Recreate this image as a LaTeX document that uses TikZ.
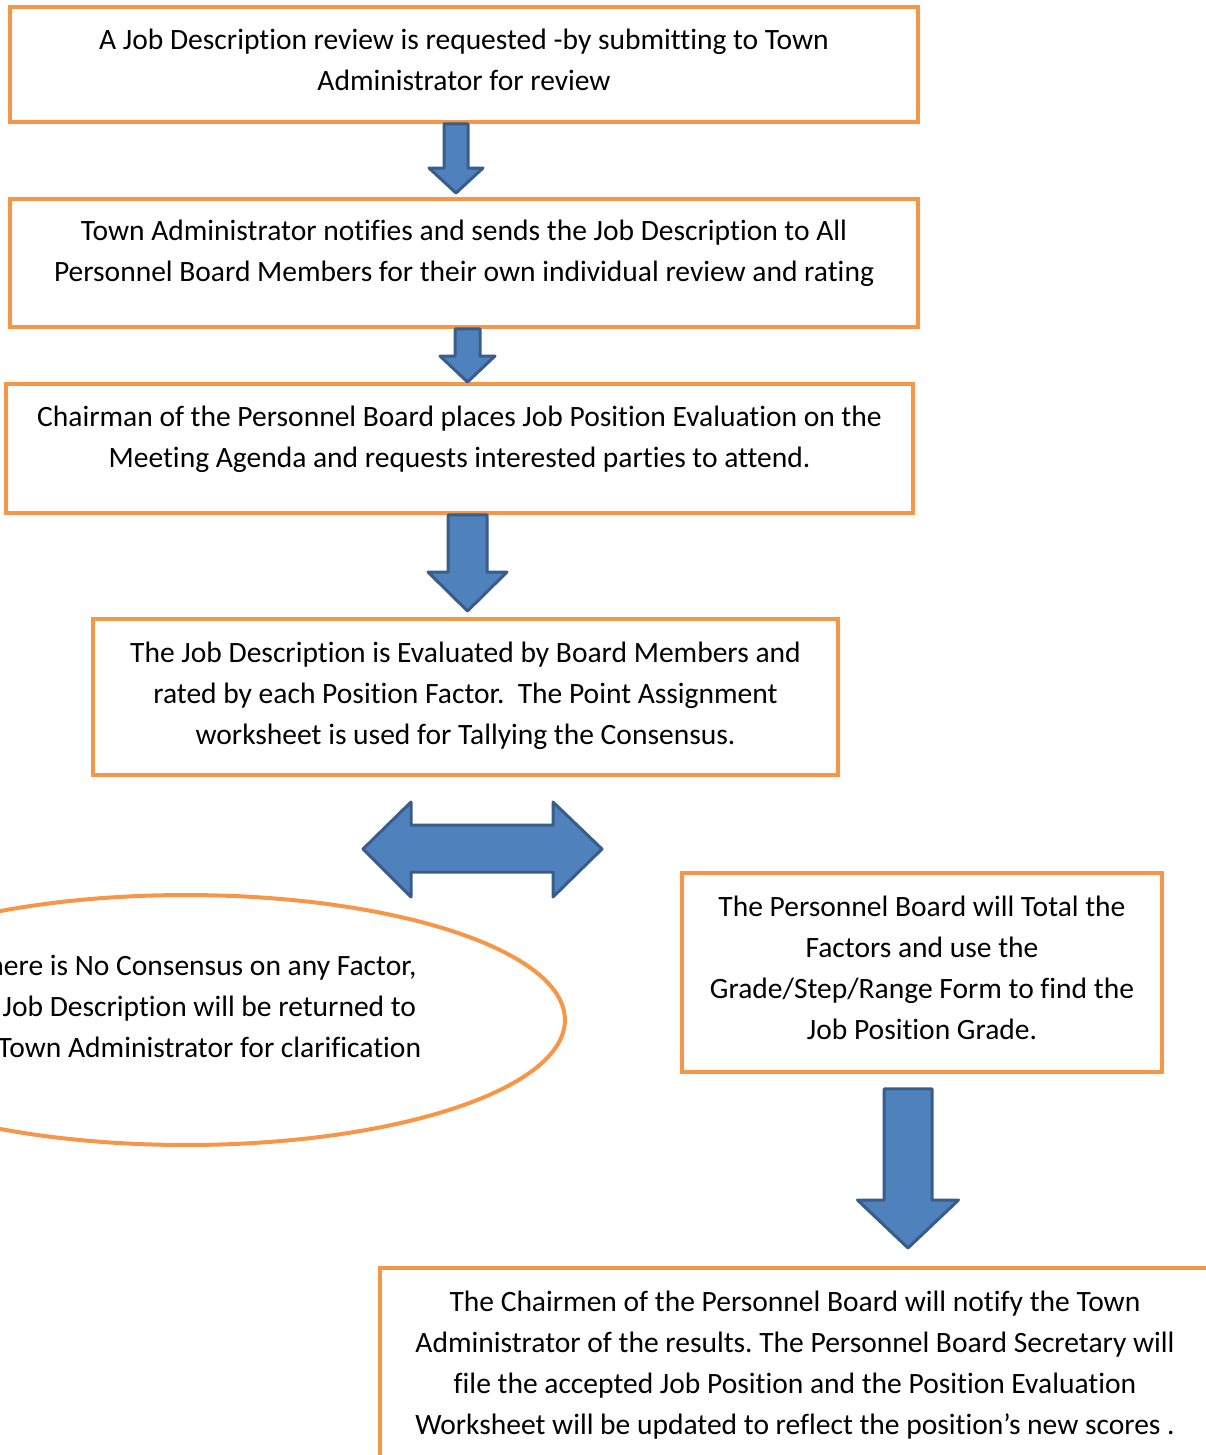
\documentclass[tikz,border=0pt]{standalone}
\usepackage{fontspec}
\setmainfont{Carlito}[Ligatures={NoCommon}]
\usetikzlibrary{calc,shapes.geometric}
\definecolor{revorange}{HTML}{F79646}
\definecolor{revblue}{HTML}{4F81BD}
\definecolor{revnavy}{HTML}{385D8A}
\tikzset{
  bx/.style={draw=revorange, line width=0.08cm, align=center, inner sep=2pt},
  stepbox/.style={bx, rectangle},
  loopbox/.style={bx, ellipse},
  lift/.style={text height=#1, text depth=0pt},
  blockarr/.style={draw=revnavy, fill=revblue, line width=0.06cm, line join=round},
}
% block arrow pointing down: from, to, x, shaft half, head half, head length, gap at top, gap at tip
\newcommand{\blockdown}[8]{%
  \draw[blockarr] ($(#3,0 |- #2.north)+(0,-#8)$) -- ++(-#5,-#6) -- ++(#5-#4,0)
    -- ($(#3-#4,0 |- #1.south)+(0,#7)$) -- ++(2*#4,0)
    -- ($(#3+#4,0 |- #2.north)+(0,-#8-#6)$) -- ++(#5-#4,0) -- cycle;}

\begin{document}
\begin{tikzpicture}[x=0.02cm, y=-0.02cm, font=\fontsize{16.8}{23.3}\selectfont\frenchspacing]
  \useasboundingbox (0,0) rectangle (1206,1455);
  \clip (0,0) rectangle (1206,1455);
  \node[stepbox, lift=1.02cm, minimum width=18.16cm, minimum height=2.30cm] (req) at (464,64.5) {A Job Description review is requested -by submitting to Town\\Administrator for review};
  \node[stepbox, lift=0.72cm, minimum width=18.16cm, minimum height=2.56cm] (notify) at (464,263) {Town Administrator notifies and sends the Job Description to All\\Personnel Board Members for their own individual review and rating};
  \node[stepbox, lift=0.74cm, minimum width=18.14cm, minimum height=2.58cm] (agenda) at (459.5,448.5) {Chairman of the Personnel Board places Job Position Evaluation on the\\Meeting Agenda and requests interested parties to attend.};
  \node[stepbox, lift=1.88cm, minimum width=14.90cm, minimum height=3.12cm] (evaluate) at (465.5,697) {The Job Description is Evaluated by Board Members and\\rated by each Position Factor.\ \ The Point Assignment\\worksheet is used for Tallying the Consensus.};
  \node[loopbox, lift=1.48cm, minimum width=15.16cm, minimum height=5.00cm] (noconsensus) at (186,1020) {If there is No Consensus on any Factor,\\the Job Description will be returned to\\the Town Administrator for clarification};
  \node[stepbox, lift=2.66cm, minimum width=9.60cm, minimum height=3.98cm] (total) at (922,972.5) {The Personnel Board will Total the\\Factors and use the\\Grade/Step/Range Form to find the\\Job Position Grade.};
  \node[stepbox, lift=2.74cm, minimum width=16.60cm, minimum height=3.90cm] (results) at (795,1365.5) {The Chairmen of the Personnel Board will notify the Town\\Administrator of the results. The Personnel Board Secretary will\\file the accepted Job Position and the Position Evaluation\\Worksheet will be updated to reflect the position’s new scores .};
  % arrows
  \blockdown{req}{notify}{456}{12}{27}{25}{0}{4}
  \blockdown{notify}{agenda}{467.5}{12.5}{27.5}{26}{0}{0}
  \blockdown{agenda}{evaluate}{467.5}{19.5}{39.5}{39}{0}{6}
  \blockdown{total}{results}{908}{24}{50.5}{48}{15}{18}
  \draw[blockarr] (363,849) -- (411,802) -- (411,825) -- (553,825) -- (553,802) -- (602,849)
    -- (553,897) -- (553,872) -- (411,872) -- (411,897) -- cycle;
\end{tikzpicture}
\end{document}
